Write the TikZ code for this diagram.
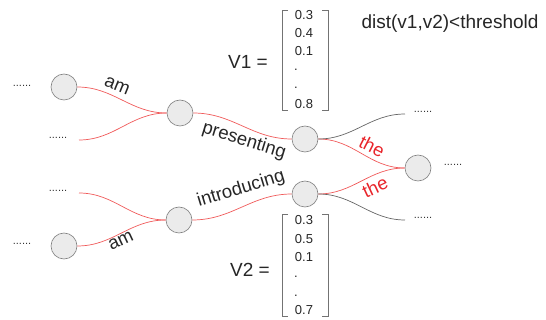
\documentclass[tikz,border=0pt]{standalone}
\usepackage{fontspec}
\setmainfont{Liberation Sans}
\definecolor{lblred}{HTML}{E8242A}
\definecolor{linered}{HTML}{F05A5A}
\begin{document}
\begin{tikzpicture}[x=1pt,y=-1pt,
  word/.style={circle,draw=black!50,fill=black!8,line width=0.6pt,minimum size=26pt,inner sep=0pt},
  redline/.style={draw=linered,line width=0.7pt},
  grayline/.style={draw=black!60,line width=0.7pt},
  dots/.style={font=\fontsize{11}{11}\selectfont,text=black!80,inner sep=0pt},
  lab/.style={font=\fontsize{18.5}{18.5}\selectfont,text=black!85,inner sep=0pt},
  redlab/.style={font=\fontsize{18.5}{18.5}\selectfont,text=lblred,inner sep=0pt},
  num/.style={font=\fontsize{13}{13}\selectfont,text=black!85,inner sep=0pt},
  brack/.style={draw=black!55,line width=0.6pt}]
\useasboundingbox (0,0) rectangle (546,320);
% nodes
\node[word] (A1) at (64,87) {};
\node[word] (B1) at (180,113) {};
\node[word] (C1) at (305,139) {};
\node[word] (D) at (418,168) {};
\node[word] (C2) at (305,194) {};
\node[word] (B2) at (179,220) {};
\node[word] (A2) at (64,246) {};
% dots
\node[dots] (dA1) at (22,86) {......};
\node[dots] (dL1) at (58,138) {......};
\node[dots] (dL2) at (58,191) {......};
\node[dots] (dA2) at (22,244) {......};
\node[dots] (dR1) at (423,112) {......};
\node[dots] (dD) at (453,165) {......};
\node[dots] (dR2) at (423,218) {......};
\coordinate (sL1) at (79,140);
\coordinate (sL2) at (79,193);
\coordinate (eR1) at (405,114);
\coordinate (eR2) at (405,220);
% curves
\draw[redline] (A1) to[out=0,in=180] (B1);
\draw[redline] (sL1) to[out=0,in=180] (B1);
\draw[redline] (sL2) to[out=0,in=180] (B2);
\draw[redline] (A2) to[out=0,in=180] (B2);
\draw[redline] (B1) to[out=0,in=180] (C1);
\draw[redline] (B2) to[out=0,in=180] (C2);
\draw[redline] (C1) to[out=0,in=180] (D);
\draw[redline] (C2) to[out=0,in=180] (D);
\draw[grayline] (C1) to[out=0,in=180] (eR1);
\draw[grayline] (C2) to[out=0,in=180] (eR2);
% labels
\node[lab,rotate=-22] (lam1) at (117,86) {am};
\node[lab,rotate=-17] (lpres) at (244,141) {presenting};
\node[lab,rotate=17] (lintro) at (241,189) {introducing};
\node[lab,rotate=25] (lam2) at (121,241) {am};
\node[redlab,rotate=-27] (lthe1) at (372,146) {the};
\node[redlab,rotate=25] (lthe2) at (375,187) {the};
% vector V1
\node[lab,font=\fontsize{19}{19}\selectfont] (v1) at (248,62) {V1 =};
\draw[brack] (288,10) -- (282,10) -- (282,110) -- (288,110);
\draw[brack] (322,10) -- (328,10) -- (328,110) -- (322,110);
\node[num] (v1a) at (304,15) {0.3};
\node[num] (v1b) at (304,33) {0.4};
\node[num] (v1c) at (304,51) {0.1};
\node[num] (v1d) at (296,70) {.};
\node[num] (v1e) at (296,88) {.};
\node[num] (v1f) at (304,104) {0.8};
% vector V2
\node[lab,font=\fontsize{19}{19}\selectfont] (v2) at (250,270) {V2 =};
\draw[brack] (288,214) -- (282,214) -- (282,316) -- (288,316);
\draw[brack] (322,214) -- (328,214) -- (328,316) -- (322,316);
\node[num] (v2a) at (304,220) {0.3};
\node[num] (v2b) at (304,239) {0.5};
\node[num] (v2c) at (304,257) {0.1};
\node[num] (v2d) at (296,277) {.};
\node[num] (v2e) at (296,296) {.};
\node[num] (v2f) at (304,310) {0.7};
% distance
\node[lab,font=\fontsize{19}{19}\selectfont] (dist) at (450,24) {dist(v1,v2)<threshold};
\end{tikzpicture}
\end{document}
